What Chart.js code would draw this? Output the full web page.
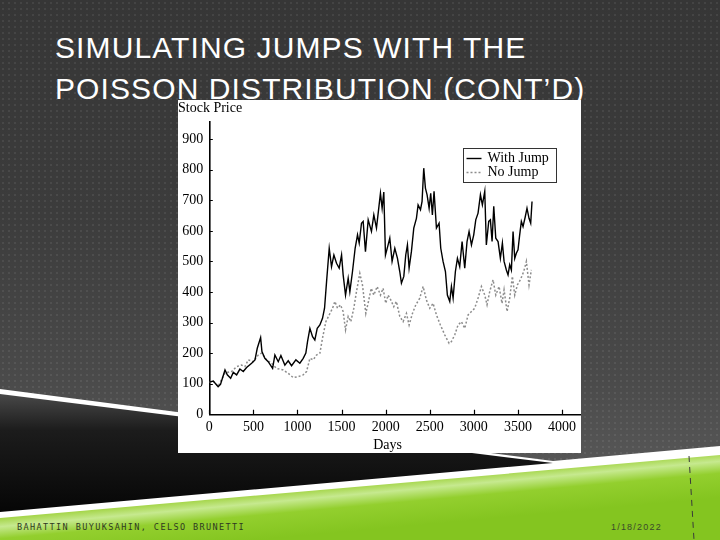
<!DOCTYPE html>
<html>
<head>
<meta charset="utf-8">
<script src="https://cdn.jsdelivr.net/npm/chart.js@4/dist/chart.umd.min.js"></script>
<style>
  html, body { margin:0; padding:0; }
  body { width:720px; height:540px; overflow:hidden; position:relative; background:#3a3a3a; }
  #bg { position:absolute; left:0; top:0; width:720px; height:540px;
        background-image: radial-gradient(circle, rgba(255,255,255,0.07) 0.9px, rgba(255,255,255,0) 1.3px),
                          linear-gradient(180deg, #363636 0%, #3c3c3c 40%, #4a4a4a 70%, #626262 100%);
        background-size: 6px 6px, 720px 540px; }
  #deco { position:absolute; left:0; top:0; }
  .title { position:absolute; left:55px; color:#fff; font-family:"Liberation Sans", Arial, sans-serif;
           font-size:30px; line-height:41px; letter-spacing:1.1px; white-space:nowrap; }
  #box { position:absolute; left:178px; top:100px; width:403px; height:353px; background:#fff; }
  #footer { position:absolute; left:17px; top:522px; font-family:"DejaVu Sans Mono", monospace; font-size:8.5px;
            letter-spacing:1.4px; color:#2f3a22; white-space:nowrap; }
  #date { position:absolute; left:611px; top:522px; font-family:"Liberation Sans", Arial, sans-serif; font-size:9px;
          letter-spacing:1.2px; color:#3a4a2a; white-space:nowrap; }
</style>
</head>
<body>
<div id="bg"></div>
<svg id="deco" width="720" height="540" viewBox="0 0 720 540">
  <defs>
    <linearGradient id="gBlack" x1="0" y1="395" x2="0" y2="512" gradientUnits="userSpaceOnUse">
      <stop offset="0" stop-color="#474747"/>
      <stop offset="0.3" stop-color="#1c1c1c"/>
      <stop offset="1" stop-color="#060606"/>
    </linearGradient>
    <linearGradient id="gGreen" x1="360" y1="486" x2="364" y2="530" gradientUnits="userSpaceOnUse">
      <stop offset="0" stop-color="#a6d64c"/>
      <stop offset="0.18" stop-color="#c6e98f"/>
      <stop offset="0.45" stop-color="#93cf2e"/>
      <stop offset="1" stop-color="#84c520"/>
    </linearGradient>
  </defs>
  <polygon points="0,389 553,461 720,446 720,540 0,540" fill="#ffffff"/>
  <polygon points="0,394 553,463 0,512" fill="url(#gBlack)"/>
  <polygon points="0,518 720,455 720,540 0,540" fill="url(#gGreen)"/>
  <line x1="689" y1="456" x2="694" y2="540" stroke="#3a3a3a" stroke-width="1" stroke-dasharray="6,5"/>
</svg>
<div class="title" style="top:27px;">SIMULATING JUMPS WITH THE</div>
<div class="title" style="top:68px;">POISSON DISTRIBUTION (CONT’D)</div>
<div id="box"><canvas id="c" width="403" height="353"></canvas></div>
<div id="footer">BAHATTIN BUYUKSAHIN, CELSO BRUNETTI</div>
<div id="date">1/18/2022</div>
<script>
// ---- data ----
const jumpDays = [0,45,100,127,178,204,242,272,310,347,385,423,480,518,544,582,597,630,668,718,744,782,812,857,895,933,982,1027,1065,1095,1114,1141,1171,1197,1224,1254,1284,1307,1330,1360,1386,1413,1443,1473,1500,1518,1545,1575,1594,1624,1654,1681,1700,1726,1745,1771,1802,1839,1866,1896,1926,1941,1960,1979,1998,2028,2047,2073,2104,2134,2160,2179,2206,2228,2247,2266,2292,2319,2349,2368,2395,2413,2432,2451,2470,2493,2511,2530,2549,2576,2606,2625,2651,2678,2700,2727,2746,2765,2791,2814,2840,2867,2897,2923,2946,2973,2999,3022,3048,3075,3097,3124,3142,3169,3188,3207,3226,3249,3275,3301,3324,3343,3369,3388,3407,3426,3445,3464,3482,3501,3520,3539,3558,3584,3603,3626,3645,3660];
const withJump = [105,109,90,98,145,129,118,137,129,148,140,153,167,178,216,251,205,183,172,150,194,172,192,161,175,159,178,167,183,200,238,281,254,243,281,292,314,347,434,543,483,521,494,478,521,456,390,445,401,467,543,587,560,625,631,532,636,598,652,609,685,723,674,727,521,554,576,500,543,510,467,429,451,521,554,478,532,609,641,685,669,696,805,740,718,674,723,652,729,609,625,543,500,467,390,369,418,380,467,510,483,565,478,565,598,554,587,636,658,718,685,729,554,631,636,565,680,576,565,510,560,500,472,456,489,472,598,510,527,538,587,631,614,647,674,641,625,696];
const noJumpDays = [0,45,100,178,253,310,366,404,442,499,555,593,650,706,763,838,895,952,1008,1065,1103,1141,1179,1216,1254,1284,1322,1360,1398,1424,1454,1488,1518,1545,1575,1605,1639,1669,1707,1737,1775,1805,1836,1866,1904,1941,1971,2001,2028,2058,2092,2122,2160,2198,2236,2266,2304,2342,2387,2425,2462,2500,2538,2576,2621,2670,2720,2746,2784,2821,2859,2897,2935,2973,3010,3048,3086,3124,3150,3180,3218,3249,3286,3320,3343,3377,3407,3437,3464,3494,3528,3566,3596,3626,3652];
const noJump = [105,108,92,135,140,156,161,156,178,172,194,200,178,167,150,145,134,120,123,129,140,183,178,194,200,249,303,325,347,369,347,358,336,276,320,303,347,401,461,423,330,369,412,390,418,390,412,363,390,374,352,369,320,303,330,292,330,358,380,418,374,347,363,325,292,260,232,238,260,292,303,281,325,336,347,380,418,390,358,401,440,390,418,363,407,336,380,451,390,423,440,467,500,423,472];
const seriesNames = ['With Jump', 'No Jump'];
const xTickValues = [0,500,1000,1500,2000,2500,3000,3500,4000];
const yTickValues = [0,100,200,300,400,500,600,700,800,900];
const xMax = 4212, yMax = 957;

const SERIF = '"Liberation Serif", "Times New Roman", serif';
Chart.defaults.font.family = SERIF;
Chart.defaults.font.size = 14;
Chart.defaults.color = '#000';

const inwardTicks = {
  id: 'inwardTicks',
  afterDraw(chart) {
    const {ctx, scales:{x, y}} = chart;
    ctx.save();
    ctx.strokeStyle = '#000';
    ctx.lineWidth = 1.2;
    ctx.beginPath();
    xTickValues.forEach(v => { const p = Math.round(x.getPixelForValue(v)) + 0.5; ctx.moveTo(p, y.bottom); ctx.lineTo(p, y.bottom - 4.5); });
    yTickValues.forEach(v => { const p = Math.round(y.getPixelForValue(v)) + 0.5; ctx.moveTo(x.left, p); ctx.lineTo(x.left + 3.5, p); });
    ctx.stroke();
    // axis title "Days"
    ctx.fillStyle = '#000';
    ctx.font = '14px ' + SERIF;
    ctx.textAlign = 'center';
    ctx.textBaseline = 'middle';
    const cx = (x.getPixelForValue(xTickValues[0]) + x.getPixelForValue(xTickValues[xTickValues.length-1])) / 2 + 2;
    ctx.fillText('Days', cx, x.bottom - 8);
    ctx.restore();
  }
};

const legendBox = {
  id: 'legendBox',
  afterDraw(chart) {
    const {ctx} = chart;
    const bx = 285.5, by = 48.5, bw = 93, bh = 34;
    ctx.save();
    ctx.strokeStyle = '#333';
    ctx.lineWidth = 1;
    ctx.strokeRect(bx, by, bw, bh);
    chart.data.datasets.forEach((ds, i) => {
      const ly = by + 10 + i * 14;
      ctx.beginPath();
      ctx.strokeStyle = ds.borderColor;
      ctx.lineWidth = ds.borderWidth;
      ctx.setLineDash(ds.borderDash || []);
      ctx.moveTo(bx + 3, ly);
      ctx.lineTo(bx + 18, ly);
      ctx.stroke();
      ctx.setLineDash([]);
      ctx.fillStyle = '#000';
      ctx.font = '14px ' + SERIF;
      ctx.textAlign = 'left';
      ctx.textBaseline = 'middle';
      ctx.fillText(ds.label, bx + 24, ly);
    });
    ctx.restore();
  }
};

new Chart(document.getElementById('c'), {
  type: 'line',
  data: {
    datasets: [
      { label: seriesNames[0], data: jumpDays.map((d, i) => ({x: d, y: withJump[i]})),
        borderColor: '#000000', borderWidth: 1.4, pointRadius: 0, tension: 0, fill: false },
      { label: seriesNames[1], data: noJumpDays.map((d, i) => ({x: d, y: noJump[i]})),
        borderColor: '#8c8c8c', borderWidth: 1.5, borderDash: [2, 2], pointRadius: 0, tension: 0, fill: false }
    ]
  },
  options: {
    responsive: false,
    animation: false,
    events: [],
    layout: { padding: 0 },
    plugins: {
      legend: { display: false },
      tooltip: { enabled: false },
      title: { display: true, text: 'Stock Price', align: 'start', color: '#000',
               font: { family: SERIF, size: 14, weight: 'normal' }, padding: { top: 0, bottom: 4.9 } }
    },
    scales: {
      x: {
        type: 'linear', min: 0, max: xMax,
        afterBuildTicks(s) { s.ticks = xTickValues.map(v => ({value: v})); },
        ticks: { padding: 5, color: '#000', font: { size: 14 }, maxRotation: 0, autoSkip: false,
                 callback: v => String(v) },
        grid: { display: false, drawTicks: false, tickLength: 0 },
        border: { display: true, color: '#000', width: 1.6 },
        afterFit(s) { s.height = 38.7; }
      },
      y: {
        type: 'linear', min: 0, max: yMax,
        afterBuildTicks(s) { s.ticks = yTickValues.map(v => ({value: v})); },
        ticks: { padding: 6, color: '#000', font: { size: 14 }, autoSkip: false, callback: v => String(v) },
        grid: { display: false, drawTicks: false, tickLength: 0 },
        border: { display: true, color: '#000', width: 1.6 },
        afterFit(s) { s.width = 31.3; }
      }
    }
  },
  plugins: [inwardTicks, legendBox]
});
</script>
</body>
</html>
